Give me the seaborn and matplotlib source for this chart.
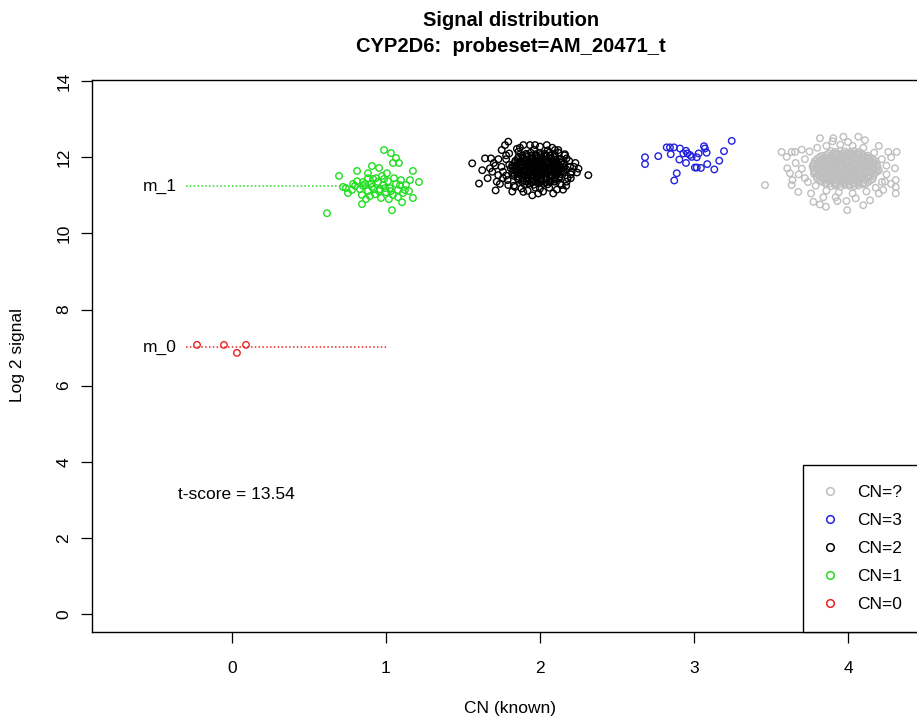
import numpy as np
import pandas as pd
import seaborn as sns
import matplotlib
matplotlib.use("Agg")
import matplotlib.pyplot as plt
from matplotlib.lines import Line2D

# CN=0 samples (red)
cn0_pts = [(-0.227, 7.07), (-0.052, 7.07), (0.032, 6.86), (0.091, 7.07)]

# CN=1 samples (green)
cn1_pts = [
    (0.987, 12.19), (1.032, 12.11), (1.045, 11.85), (1.084, 11.85), (0.909, 11.77),
    (0.955, 11.72), (0.812, 11.64), (0.883, 11.58), (0.695, 11.51), (1.175, 11.64),
    (1.214, 11.35), (1.006, 11.58), (0.974, 11.51), (0.916, 11.43), (0.851, 11.35),
    (0.786, 11.30), (0.721, 11.22), (0.844, 10.77), (1.039, 10.61), (0.617, 10.53),
    (1.104, 10.82), (1.175, 10.93), (1.065, 11.98), (1.123, 11.14), (0.753, 11.06),
    (0.799, 11.25), (0.831, 11.16), (0.864, 11.30), (0.883, 11.11), (0.909, 11.22),
    (0.929, 11.03), (0.948, 11.35), (0.961, 11.16), (0.981, 11.27), (1.000, 11.08),
    (1.013, 11.37), (1.026, 11.19), (1.045, 11.01), (1.065, 11.30), (1.078, 11.14),
    (1.091, 11.27), (1.110, 11.06), (1.130, 11.27), (1.149, 11.11), (0.896, 10.98),
    (0.844, 11.01), (0.812, 11.37), (0.870, 10.90), (0.968, 10.93), (1.019, 10.90),
    (0.935, 11.45), (0.987, 11.43), (1.052, 11.45), (0.779, 11.14), (0.740, 11.19),
    (1.078, 10.95), (0.903, 11.30), (0.955, 11.11), (1.032, 11.11), (0.994, 11.19),
    (0.922, 11.16), (0.851, 11.25), (1.156, 11.40), (1.097, 11.40), (0.883, 11.45),
]

# CN=2 samples (black)
cn2_pts = [
    (1.91, 12.09), (1.94, 12.12), (1.97, 12.08), (2.00, 12.11), (2.03, 12.09), (2.06, 12.12),
    (1.86, 12.01), (1.89, 11.99), (1.92, 12.02), (1.95, 11.98), (1.98, 12.01), (2.01, 12.00),
    (2.04, 12.02), (2.07, 11.98), (2.10, 12.01),
    (1.84, 11.91), (1.87, 11.89), (1.90, 11.92), (1.93, 11.88), (1.96, 11.91), (1.99, 11.90),
    (2.02, 11.92), (2.05, 11.89), (2.08, 11.91), (2.11, 11.88), (2.14, 11.90),
    (1.82, 11.79), (1.85, 11.81), (1.88, 11.78), (1.91, 11.82), (1.94, 11.80), (1.97, 11.79),
    (2.00, 11.81), (2.03, 11.78), (2.06, 11.82), (2.09, 11.80), (2.12, 11.79), (2.15, 11.81),
    (1.81, 11.71), (1.84, 11.69), (1.87, 11.72), (1.90, 11.68), (1.93, 11.71), (1.96, 11.70),
    (1.99, 11.72), (2.02, 11.69), (2.05, 11.71), (2.08, 11.68), (2.11, 11.70), (2.14, 11.72),
    (2.17, 11.69),
    (1.82, 11.59), (1.85, 11.61), (1.88, 11.58), (1.91, 11.62), (1.94, 11.60), (1.97, 11.59),
    (2.00, 11.61), (2.03, 11.58), (2.06, 11.62), (2.09, 11.60), (2.12, 11.59), (2.15, 11.61),
    (1.83, 11.51), (1.86, 11.49), (1.89, 11.52), (1.92, 11.48), (1.95, 11.51), (1.98, 11.50),
    (2.01, 11.52), (2.04, 11.49), (2.07, 11.51), (2.10, 11.48), (2.13, 11.50),
    (1.86, 11.41), (1.89, 11.39), (1.92, 11.42), (1.95, 11.38), (1.98, 11.41), (2.01, 11.40),
    (2.04, 11.42), (2.07, 11.39), (2.10, 11.41),
    (1.90, 11.29), (1.93, 11.31), (1.96, 11.28), (1.99, 11.32), (2.02, 11.30), (2.05, 11.29),
    (1.885, 12.05), (1.915, 12.06), (1.945, 12.04), (1.975, 12.05), (2.005, 12.06),
    (2.035, 12.04), (2.065, 12.05), (2.095, 12.06),
    (1.855, 11.95), (1.885, 11.96), (1.915, 11.94), (1.945, 11.95), (1.975, 11.96),
    (2.005, 11.94), (2.035, 11.95), (2.065, 11.96), (2.095, 11.94), (2.125, 11.95),
    (1.835, 11.85), (1.865, 11.86), (1.895, 11.84), (1.925, 11.85), (1.955, 11.86),
    (1.985, 11.84), (2.015, 11.85), (2.045, 11.86), (2.075, 11.84), (2.105, 11.85),
    (2.135, 11.86), (2.160, 11.84),
    (1.825, 11.75), (1.855, 11.76), (1.885, 11.74), (1.915, 11.75), (1.945, 11.76),
    (1.975, 11.74), (2.005, 11.75), (2.035, 11.76), (2.065, 11.74), (2.095, 11.75),
    (2.125, 11.76), (2.155, 11.74),
    (1.825, 11.65), (1.855, 11.66), (1.885, 11.64), (1.915, 11.65), (1.945, 11.66),
    (1.975, 11.64), (2.005, 11.65), (2.035, 11.66), (2.065, 11.64), (2.095, 11.65),
    (2.125, 11.66), (2.155, 11.64),
    (1.835, 11.55), (1.865, 11.56), (1.895, 11.54), (1.925, 11.55), (1.955, 11.56),
    (1.985, 11.54), (2.015, 11.55), (2.045, 11.56), (2.075, 11.54), (2.105, 11.55),
    (2.135, 11.56),
    (1.855, 11.45), (1.885, 11.46), (1.915, 11.44), (1.945, 11.45), (1.975, 11.46),
    (2.005, 11.44), (2.035, 11.45), (2.065, 11.46), (2.095, 11.44), (2.125, 11.45),
    (1.885, 11.35), (1.915, 11.36), (1.945, 11.34), (1.975, 11.35), (2.005, 11.36),
    (2.035, 11.34), (2.065, 11.35), (2.095, 11.36),
    (1.78, 11.95), (1.76, 11.62), (1.79, 11.40), (1.83, 11.25), (1.88, 11.18), (1.97, 11.20),
    (2.06, 11.20), (2.13, 11.30), (2.18, 11.45), (2.20, 11.55), (2.19, 11.90), (2.16, 12.05),
    (2.12, 12.12), (1.86, 12.15), (1.80, 12.10), (1.75, 11.75), (1.73, 11.95), (1.74, 11.30),
    (1.85, 12.22), (1.96, 12.20), (2.05, 12.18), (2.22, 11.75), (2.24, 11.60), (2.17, 11.25),
    (2.00, 11.18), (1.92, 11.12), (1.78, 11.52), (2.11, 11.15), (1.69, 11.62), (1.71, 11.78),
    (1.560, 11.84), (1.604, 11.31), (1.625, 11.66), (1.643, 11.97), (1.682, 11.97),
    (1.675, 11.71), (1.712, 11.13), (1.719, 11.36), (1.729, 11.53), (1.751, 12.19),
    (1.794, 12.41), (1.773, 12.32), (1.892, 12.32), (1.935, 12.32), (1.968, 12.32),
    (2.044, 12.32), (2.097, 12.19), (2.119, 12.19), (2.162, 12.08), (2.173, 11.97),
    (2.195, 11.75), (2.206, 11.62), (2.173, 11.36), (2.141, 11.27), (2.086, 11.05),
    (1.989, 11.05), (1.892, 11.09), (1.838, 11.22), (2.314, 11.53), (1.794, 11.27),
    (1.76, 11.45), (1.80, 11.80), (1.78, 12.05), (2.23, 11.85), (2.20, 11.45),
    (2.15, 11.15), (1.95, 11.00), (2.02, 11.10), (1.87, 12.25), (2.00, 12.28),
    (2.08, 12.25), (1.70, 11.85), (1.66, 11.45), (2.25, 11.70), (1.82, 11.10),
]

# CN=3 samples (blue)
cn3_pts = [
    (2.682, 12.00), (2.682, 11.82), (2.768, 12.03), (2.823, 12.26), (2.844, 12.26),
    (2.870, 12.26), (2.849, 12.08), (2.909, 12.23), (2.931, 12.10), (2.948, 12.17),
    (2.957, 12.10), (2.974, 12.06), (2.985, 12.01), (3.018, 12.00), (3.030, 12.10),
    (3.065, 12.29), (3.071, 12.23), (3.082, 12.12), (2.905, 11.94), (2.948, 11.85),
    (3.006, 11.73), (3.018, 11.73), (3.045, 11.72), (3.086, 11.82), (3.132, 11.68),
    (3.164, 11.91), (3.195, 12.16), (3.245, 12.43), (2.888, 11.58), (2.872, 11.39),
]

# CN unknown samples (gray)
cnq_pts = [
    (3.89, 12.16), (3.92, 12.14), (3.95, 12.17), (3.98, 12.15), (4.01, 12.13), (4.04, 12.16),
    (4.07, 12.14),
    (3.83, 12.04), (3.86, 12.06), (3.89, 12.03), (3.92, 12.07), (3.95, 12.05), (3.98, 12.04),
    (4.01, 12.06), (4.04, 12.03), (4.07, 12.07), (4.10, 12.05), (4.13, 12.04),
    (3.80, 11.96), (3.83, 11.94), (3.86, 11.97), (3.89, 11.93), (3.92, 11.96), (3.95, 11.95),
    (3.98, 11.97), (4.01, 11.94), (4.04, 11.96), (4.07, 11.93), (4.10, 11.95), (4.13, 11.97),
    (4.16, 11.94),
    (3.78, 11.84), (3.81, 11.86), (3.84, 11.83), (3.87, 11.87), (3.90, 11.85), (3.93, 11.84),
    (3.96, 11.86), (3.99, 11.83), (4.02, 11.87), (4.05, 11.85), (4.08, 11.84), (4.11, 11.86),
    (4.14, 11.83), (4.17, 11.85),
    (3.77, 11.76), (3.80, 11.74), (3.83, 11.77), (3.86, 11.73), (3.89, 11.76), (3.92, 11.75),
    (3.95, 11.77), (3.98, 11.74), (4.01, 11.76), (4.04, 11.73), (4.07, 11.75), (4.10, 11.77),
    (4.13, 11.74), (4.16, 11.76), (4.19, 11.75),
    (3.78, 11.64), (3.81, 11.66), (3.84, 11.63), (3.87, 11.67), (3.90, 11.65), (3.93, 11.64),
    (3.96, 11.66), (3.99, 11.63), (4.02, 11.67), (4.05, 11.65), (4.08, 11.64), (4.11, 11.66),
    (4.14, 11.63), (4.17, 11.67), (4.20, 11.65),
    (3.78, 11.56), (3.81, 11.54), (3.84, 11.57), (3.87, 11.53), (3.90, 11.56), (3.93, 11.55),
    (3.96, 11.57), (3.99, 11.54), (4.02, 11.56), (4.05, 11.53), (4.08, 11.55), (4.11, 11.57),
    (4.14, 11.54), (4.17, 11.56),
    (3.80, 11.44), (3.83, 11.46), (3.86, 11.43), (3.89, 11.47), (3.92, 11.45), (3.95, 11.44),
    (3.98, 11.46), (4.01, 11.43), (4.04, 11.47), (4.07, 11.45), (4.10, 11.44), (4.13, 11.46),
    (4.16, 11.43),
    (3.83, 11.36), (3.86, 11.34), (3.89, 11.37), (3.92, 11.33), (3.95, 11.36), (3.98, 11.35),
    (4.01, 11.37), (4.04, 11.34), (4.07, 11.36), (4.10, 11.33), (4.13, 11.35),
    (3.89, 11.24), (3.92, 11.26), (3.95, 11.23), (3.98, 11.27), (4.01, 11.25), (4.04, 11.24),
    (4.07, 11.26),
    (3.875, 12.10), (3.905, 12.11), (3.935, 12.09), (3.965, 12.10), (3.995, 12.11),
    (4.025, 12.09), (4.055, 12.10), (4.085, 12.11),
    (3.815, 12.00), (3.845, 12.01), (3.875, 11.99), (3.905, 12.00), (3.935, 12.01),
    (3.965, 11.99), (3.995, 12.00), (4.025, 12.01), (4.055, 11.99), (4.085, 12.00),
    (4.115, 12.01), (4.145, 11.99),
    (3.785, 11.90), (3.815, 11.91), (3.845, 11.89), (3.875, 11.90), (3.905, 11.91),
    (3.935, 11.89), (3.965, 11.90), (3.995, 11.91), (4.025, 11.89), (4.055, 11.90),
    (4.085, 11.91), (4.115, 11.89), (4.145, 11.90), (4.175, 11.91),
    (3.775, 11.80), (3.805, 11.81), (3.835, 11.79), (3.865, 11.80), (3.895, 11.81),
    (3.925, 11.79), (3.955, 11.80), (3.985, 11.81), (4.015, 11.79), (4.045, 11.80),
    (4.075, 11.81), (4.105, 11.79), (4.135, 11.80), (4.165, 11.81), (4.190, 11.79),
    (3.775, 11.70), (3.805, 11.71), (3.835, 11.69), (3.865, 11.70), (3.895, 11.71),
    (3.925, 11.69), (3.955, 11.70), (3.985, 11.71), (4.015, 11.69), (4.045, 11.70),
    (4.075, 11.71), (4.105, 11.69), (4.135, 11.70), (4.165, 11.71), (4.195, 11.69),
    (3.785, 11.60), (3.815, 11.61), (3.845, 11.59), (3.875, 11.60), (3.905, 11.61),
    (3.935, 11.59), (3.965, 11.60), (3.995, 11.61), (4.025, 11.59), (4.055, 11.60),
    (4.085, 11.61), (4.115, 11.59), (4.145, 11.60), (4.185, 11.61),
    (3.795, 11.50), (3.825, 11.51), (3.855, 11.49), (3.885, 11.50), (3.915, 11.51),
    (3.945, 11.49), (3.975, 11.50), (4.005, 11.51), (4.035, 11.49), (4.065, 11.50),
    (4.095, 11.51), (4.125, 11.49), (4.165, 11.50),
    (3.815, 11.40), (3.845, 11.41), (3.875, 11.39), (3.905, 11.40), (3.935, 11.41),
    (3.965, 11.39), (3.995, 11.40), (4.025, 11.41), (4.055, 11.39), (4.085, 11.40),
    (4.115, 11.41), (4.145, 11.39),
    (3.855, 11.30), (3.885, 11.31), (3.915, 11.29), (3.945, 11.30), (3.975, 11.31),
    (4.005, 11.29), (4.035, 11.30), (4.065, 11.31), (4.095, 11.29), (4.115, 11.30),
    (3.72, 11.95), (3.70, 11.70), (3.72, 11.45), (3.75, 12.15), (3.80, 12.25), (3.86, 12.30),
    (3.95, 12.33), (4.03, 12.30), (4.10, 12.25), (4.17, 12.12), (4.22, 11.95), (4.25, 11.78),
    (4.25, 11.55), (4.22, 11.35), (4.18, 11.20), (4.12, 11.10), (4.03, 11.05), (3.94, 11.08),
    (3.86, 11.12), (3.79, 11.25), (3.74, 11.35), (3.68, 11.55), (3.66, 11.85), (3.76, 11.05),
    (3.84, 10.95), (3.92, 10.95), (4.05, 10.92), (4.20, 11.05), (4.28, 11.30), (4.28, 12.00),
    (4.20, 12.30), (3.90, 12.42), (3.70, 12.20), (3.64, 11.40), (4.00, 12.40), (3.99, 10.85),
    (3.461, 11.27), (3.569, 12.14), (3.634, 12.14), (3.656, 12.14), (3.602, 12.01),
    (3.606, 11.71), (3.623, 11.58), (3.634, 11.27), (3.677, 11.09), (3.775, 10.83),
    (3.818, 10.76), (3.857, 10.70), (3.931, 10.85), (3.995, 10.61), (4.099, 10.74),
    (4.143, 10.87), (4.262, 12.14), (4.316, 12.14), (4.305, 11.71), (4.310, 11.40),
    (4.310, 11.22), (4.310, 11.05), (4.240, 11.36), (4.229, 11.14), (3.818, 12.50),
    (3.905, 12.50), (3.970, 12.54), (4.067, 12.54), (4.110, 12.45),
]

# group means drawn as dotted reference lines
mean_labels = ["m_0", "m_1"]
mean_values = [7.01, 11.24]
t_score = 13.54

groups = ["CN=0", "CN=1", "CN=2", "CN=3", "CN=?"]
colors = ["#ee2222", "#22dd22", "black", "#2222dd", "#bebebe"]

rows = []
for g, pts in zip(groups, [cn0_pts, cn1_pts, cn2_pts, cn3_pts, cnq_pts]):
    for x, y in pts:
        rows.append((g, x, y))
df = pd.DataFrame(rows, columns=["group", "cn", "signal"])

sns.set_style("white")
plt.rcParams["font.family"] = ["Liberation Sans", "DejaVu Sans"]
plt.rcParams["text.color"] = "black"

W, H = 917, 721
fig = plt.figure(figsize=(W / 100, H / 100), dpi=100)
ax = fig.add_axes([92 / W, (H - 632) / H, (935 - 92) / W, (632 - 80) / H])

sns.scatterplot(data=df, x="cn", y="signal", hue="group", hue_order=groups,
                palette=dict(zip(groups, colors)), s=22, linewidth=1.0,
                legend=False, ax=ax)
# open circles like R's pch=1
for coll in ax.collections:
    fc = coll.get_facecolors()
    coll.set_edgecolors(fc)
    coll.set_facecolors("none")

for lab, val, c in zip(mean_labels, mean_values, [colors[0], colors[1]]):
    ax.plot([-0.3, 1.0], [val, val], color=c, lw=1.1, linestyle=(0, (1, 1.5)))
    ax.text(-0.36, val, lab, ha="right", va="center", fontsize=12.5, color="black")

ax.text(-0.35, 3.15, "t-score = %.2f" % t_score, ha="left", va="center",
        fontsize=12.5, color="black")

ax.set_xlim(-0.909, 4.565)
ax.set_ylim(-0.473, 14.03)
ax.set_xticks(range(0, 5))
ax.set_yticks(range(0, 15, 2))
ax.tick_params(bottom=True, left=True, direction="out", length=8, width=0.9,
               labelsize=12.5, colors="black")
ax.tick_params(axis="x", pad=13)
ax.tick_params(axis="y", pad=7)
for lab in ax.get_yticklabels():
    lab.set_rotation(90)
    lab.set_va("center")
for sp in ax.spines.values():
    sp.set_color("black")
    sp.set_linewidth(1)
ax.set_xlabel("")
ax.set_ylabel("")

handles = [Line2D([], [], marker="o", linestyle="none", markerfacecolor="none",
                  markeredgecolor=c, markersize=5.5, markeredgewidth=1.1)
           for c in colors[::-1]]
leg = ax.legend(handles, groups[::-1], loc="lower left",
                bbox_to_anchor=((803 - 92) / 843, 0, 0.2, 0.3), mode="expand",
                fontsize=12.5, frameon=True, fancybox=False, framealpha=1,
                borderpad=1.15, labelspacing=0.74, handlelength=0.8,
                handletextpad=1.15, borderaxespad=0)
leg.get_frame().set_edgecolor("black")
leg.get_frame().set_linewidth(1)
for t in leg.get_texts():
    t.set_color("black")

fig.text(511 / W, 1 - 20 / H, "Signal distribution", ha="center", va="center",
         fontsize=14.5, fontweight="bold", color="black")
fig.text(511 / W, 1 - 46 / H, "CYP2D6:  probeset=AM_20471_t", ha="center", va="center",
         fontsize=14.5, fontweight="bold", color="black")
fig.text(510 / W, 1 - 708 / H, "CN (known)", ha="center", va="center", fontsize=12.5,
         color="black")
fig.text(18 / W, 1 - 355 / H, "Log 2 signal", ha="center", va="center", rotation=90,
         fontsize=12.5, color="black")

fig.savefig("out.png", dpi=100)
